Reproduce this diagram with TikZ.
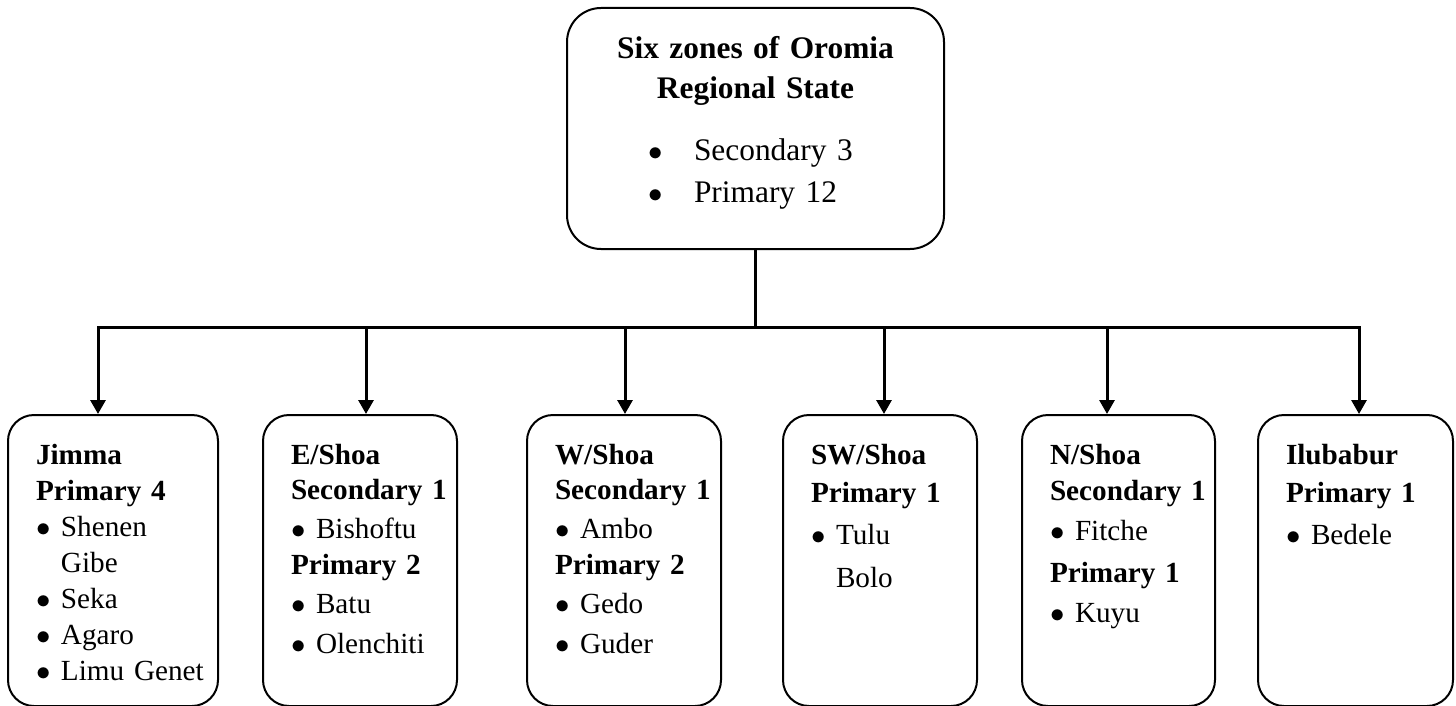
\documentclass[tikz,border=0pt]{standalone}
\usepackage{fontspec}
\setmainfont{Liberation Serif}
\usetikzlibrary{arrows.meta}
\newcommand\bul{\makebox[12.5pt][l]{$\bullet$}}
\newcommand\hang{\hspace*{12.5pt}}
\newcommand\tbul{\makebox[23pt][l]{$\bullet$}}
\begin{document}
\begin{tikzpicture}[x=0.5pt,y=-0.5pt,
  box/.style={draw, line width=1pt, rounded corners=13pt, anchor=north west,
    inner xsep=14pt, inner ysep=0pt, align=left, text height=24.5pt, text depth=121pt,
    font=\fontsize{14.6}{18}\selectfont},
  topbox/.style={draw, line width=1pt, rounded corners=17pt, anchor=north west,
    inner sep=0pt, text width=188.5pt, align=center, text height=25.5pt, text depth=95pt,
    font=\fontsize{15.7}{20}\selectfont},
  conn/.style={line width=1.5pt},
  arr/.style={line width=1.5pt, -{Triangle[width=7.5pt,length=7pt]}}]
\useasboundingbox (0,0) rectangle (1456,706);

\node[topbox] (top) at (566,7)
  {\textbf{Six zones of Oromia}\\
   \textbf{Regional State}\\[11pt]
   \makebox[188.5pt][l]{\hspace*{40.5pt}\tbul Secondary~3}\\[1pt]
   \makebox[188.5pt][l]{\hspace*{40.5pt}\tbul Primary~12}};

\node[box, text width=77pt] (jimma) at (7,414)
  {\textbf{Jimma}\\\textbf{Primary~4}\\\bul Shenen\\\hang Gibe\\\bul Seka\\\bul Agaro\\\bul Limu~Genet};
\node[box, text width=69pt] (eshoa) at (262,414)
  {\textbf{E/Shoa}\\[-0.5pt]\textbf{Secondary~1}\\[1.5pt]\bul Bishoftu\\\textbf{Primary~2}\\[1.5pt]\bul Batu\\[2pt]\bul Olenchiti};
\node[box, text width=69pt] (wshoa) at (526,414)
  {\textbf{W/Shoa}\\[-0.5pt]\textbf{Secondary~1}\\[1.5pt]\bul Ambo\\\textbf{Primary~2}\\[1.5pt]\bul Gedo\\[2pt]\bul Guder};
\node[box, text width=69pt] (swshoa) at (782,414)
  {\textbf{SW/Shoa}\\[1pt]\textbf{Primary~1}\\[3pt]\bul Tulu\\[3.5pt]\hang Bolo};
\node[box, text width=68.5pt] (nshoa) at (1021,414)
  {\textbf{N/Shoa}\\\textbf{Secondary~1}\\[2pt]\bul Fitche\\[3pt]\textbf{Primary~1}\\[2pt]\bul Kuyu};
\node[box, text width=69.5pt] (ilu) at (1257,414)
  {\textbf{Ilubabur}\\[1pt]\textbf{Primary~1}\\[3pt]\bul Bedele};

\coordinate (t1) at (98,327);
\coordinate (t2) at (366,327);
\coordinate (t3) at (625,327);
\coordinate (t4) at (884,327);
\coordinate (t5) at (1107,327);
\coordinate (t6) at (1359,327);
\coordinate (hub) at (top.south |- t1);

\draw[conn] (top.south) -- (hub);
\draw[conn, line cap=rect] (t1) -- (t6);
\draw[arr] (t1) -- (t1 |- jimma.north);
\draw[arr] (t2) -- (t2 |- eshoa.north);
\draw[arr] (t3) -- (t3 |- wshoa.north);
\draw[arr] (t4) -- (t4 |- swshoa.north);
\draw[arr] (t5) -- (t5 |- nshoa.north);
\draw[arr] (t6) -- (t6 |- ilu.north);
\end{tikzpicture}
\end{document}
